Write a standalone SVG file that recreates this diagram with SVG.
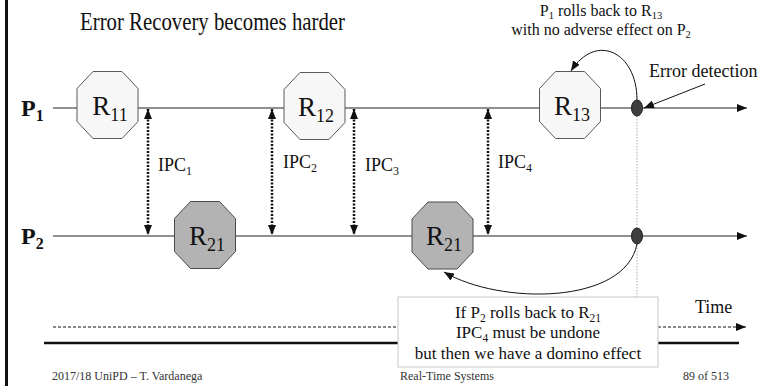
<svg xmlns="http://www.w3.org/2000/svg" width="767" height="386" viewBox="0 0 767 386">
  <style>
    text { font-family: "Liberation Serif", "Times New Roman", serif; fill: #111; }
    .title { font-size: 26px; }
    .body { font-size: 18px; }
    .boxt { font-size: 17px; }
    .note { font-size: 16px; }
    .proc { font-size: 24px; font-weight: bold; }
    .rlab { font-size: 27px; }
    .foot { font-size: 12px; fill: #333; }
    .ckpt { fill: #f7f7f7; stroke: #5a5a5a; stroke-width: 1; }
    .ckpt-dark { fill: #b3b3b3; stroke: #4a4a4a; stroke-width: 1; }
    .line { stroke: #222; stroke-width: 1.2; fill: none; }
    .ipc { stroke: #111; stroke-width: 2.5; stroke-dasharray: 2 1.5; fill: none; }
    .thin { stroke: #111; stroke-width: 1; fill: none; }
    .err { fill: #3f3f3f; stroke: #222; stroke-width: 1; }
  </style>
  <defs>
    <marker id="arr" viewBox="0 0 10 8" refX="10" refY="4" markerWidth="10" markerHeight="8" markerUnits="userSpaceOnUse" orient="auto">
      <path d="M0,0 L10,4 L0,8 Z" fill="#111"/>
    </marker>
    <marker id="arrIpc" viewBox="0 0 10 8" refX="10" refY="4" markerWidth="10" markerHeight="8" markerUnits="userSpaceOnUse" orient="auto-start-reverse">
      <path d="M0,0 L10,4 L0,8 Z" fill="#111"/>
    </marker>
    <polygon id="oct" points="-14.5,-33.5 14.5,-33.5 30.5,-16.5 30.5,16.5 14.5,33.5 -14.5,33.5 -30.5,16.5 -30.5,-16.5"/>
  </defs>

  <!-- left frame bar -->
  <rect x="5" y="0" width="3" height="386" fill="#111"/>

  <!-- title -->
  <text class="title" x="80" y="30" textLength="265" lengthAdjust="spacingAndGlyphs">Error Recovery becomes harder</text>

  <!-- process labels -->
  <text class="proc" x="21" y="116">P<tspan font-size="16" dy="5">1</tspan></text>
  <text class="proc" x="21" y="244">P<tspan font-size="16" dy="5">2</tspan></text>

  <g id="connectors">
    <!-- process timelines -->
    <line class="line" x1="53" y1="108" x2="747" y2="108" marker-end="url(#arr)"/>
    <line class="line" x1="53" y1="236" x2="747" y2="236" marker-end="url(#arr)"/>
    <!-- IPC exchanges -->
    <line class="ipc" x1="148" y1="109" x2="148" y2="235" marker-start="url(#arrIpc)" marker-end="url(#arrIpc)"/>
    <line class="ipc" x1="272" y1="109" x2="272" y2="235" marker-start="url(#arrIpc)" marker-end="url(#arrIpc)"/>
    <line class="ipc" x1="354" y1="109" x2="354" y2="235" marker-start="url(#arrIpc)" marker-end="url(#arrIpc)"/>
    <line class="ipc" x1="488" y1="109" x2="488" y2="235" marker-start="url(#arrIpc)" marker-end="url(#arrIpc)"/>
    <!-- error instant -->
    <line x1="637" y1="116" x2="637" y2="297" stroke="#aaa" stroke-width="1" stroke-dasharray="1.5 1.5"/>
    <!-- rollback of P1 -->
    <path class="thin" d="M637,100 C637,52 596,32 571,71" marker-end="url(#arr)"/>
    <!-- error detection pointer -->
    <line class="thin" x1="705" y1="84" x2="644" y2="108" marker-end="url(#arr)"/>
    <!-- rollback of P2 -->
    <path class="thin" d="M637,244 C625,305 500,305 444,272" marker-end="url(#arr)"/>
    <!-- time axis -->
    <line x1="53" y1="327" x2="746" y2="327" stroke="#111" stroke-width="1" stroke-dasharray="3 2" marker-end="url(#arr)"/>
    <line x1="44" y1="343" x2="739" y2="343" stroke="#111" stroke-width="2.5"/>
  </g>

  <g id="R11">
    <use href="#oct" x="107.5" y="105" class="ckpt"/>
    <text class="rlab" x="110" y="115" text-anchor="middle">R<tspan font-size="18" dy="6">11</tspan></text>
  </g>
  <g id="R12">
    <use href="#oct" x="314.5" y="106" class="ckpt"/>
    <text class="rlab" x="316" y="116" text-anchor="middle">R<tspan font-size="18" dy="6">12</tspan></text>
  </g>
  <g id="R13">
    <use href="#oct" x="570" y="105" class="ckpt"/>
    <text class="rlab" x="572" y="115" text-anchor="middle">R<tspan font-size="18" dy="6">13</tspan></text>
  </g>
  <g id="R21a">
    <use href="#oct" x="205" y="235" class="ckpt-dark"/>
    <text class="rlab" x="207" y="245" text-anchor="middle">R<tspan font-size="18" dy="6">21</tspan></text>
  </g>
  <g id="R21b">
    <use href="#oct" x="442.5" y="235.5" class="ckpt-dark"/>
    <text class="rlab" x="444" y="245" text-anchor="middle">R<tspan font-size="18" dy="6">21</tspan></text>
  </g>

  <g id="err1"><ellipse class="err" cx="637" cy="108" rx="5.5" ry="8"/></g>
  <g id="err2"><ellipse class="err" cx="637" cy="236" rx="5.5" ry="8"/></g>

  <!-- IPC labels -->
  <g id="ipc-labels">
    <text class="body" x="158" y="171">IPC<tspan font-size="12" dy="4">1</tspan></text>
    <text class="body" x="283" y="168">IPC<tspan font-size="12" dy="4">2</tspan></text>
    <text class="body" x="365" y="171">IPC<tspan font-size="12" dy="4">3</tspan></text>
    <text class="body" x="498" y="168">IPC<tspan font-size="12" dy="4">4</tspan></text>
  </g>

  <!-- annotations -->
  <g id="note-p1">
    <text class="note" x="601" y="16" text-anchor="middle">P<tspan font-size="10.5" dy="3">1</tspan><tspan dy="-3"> rolls back to R</tspan><tspan font-size="10.5" dy="3">13</tspan></text>
    <text class="note" x="601" y="35" text-anchor="middle">with no adverse effect on P<tspan font-size="10.5" dy="3">2</tspan></text>
  </g>
  <g id="note-err">
    <text class="body" x="649" y="77">Error detection</text>
  </g>
  <g id="note-time">
    <text class="body" x="695" y="313">Time</text>
  </g>
  <g id="note-p2">
    <rect x="398" y="297" width="260" height="70" fill="#fff" stroke="#c8c8c8" stroke-width="1"/>
    <text class="boxt" x="528" y="318" text-anchor="middle">If P<tspan font-size="11.5" dy="3.5">2</tspan><tspan dy="-3.5"> rolls back to R</tspan><tspan font-size="11.5" dy="3.5">21</tspan></text>
    <text class="boxt" x="528" y="338" text-anchor="middle">IPC<tspan font-size="11.5" dy="3.5">4</tspan><tspan dy="-3.5"> must be undone</tspan></text>
    <text class="boxt" x="528" y="359" text-anchor="middle">but then we have a domino effect</text>
  </g>

  <!-- footer -->
  <text class="foot" x="52" y="380">2017/18 UniPD – T. Vardanega</text>
  <text class="foot" x="400" y="380">Real-Time Systems</text>
  <text class="foot" x="683" y="380">89 of 513</text>
</svg>
